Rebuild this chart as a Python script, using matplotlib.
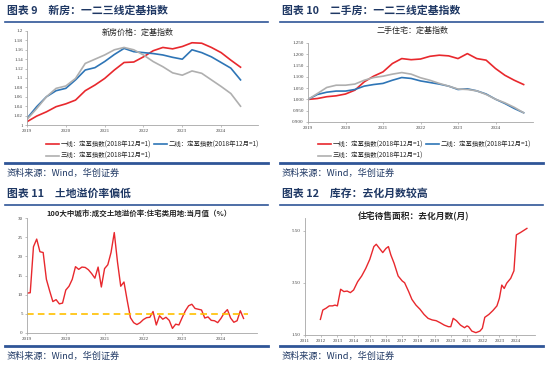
import numpy as np
import matplotlib
matplotlib.use("Agg")
import matplotlib.pyplot as plt
from matplotlib.lines import Line2D

plt.rcParams['font.family'] = ['Noto Sans CJK SC', 'DejaVu Sans']

W, H = 550, 366
NAVY = '#1F3864'
RULE = '#2F5597'
RED = '#E8282D'
BLUE = '#2E75B6'
GRAY = '#AFAFAF'
AXC = '#A6A6A6'

# ---- 图表9 新房 (quarterly readings, 2019Q1..2024Q3)
q_new = [2019.0 + 0.25 * i for i in range(23)]
new_t1 = [1.007, 1.019, 1.028, 1.039, 1.045, 1.053, 1.073, 1.085, 1.099, 1.117, 1.133, 1.134,
          1.145, 1.158, 1.165, 1.162, 1.167, 1.175, 1.174, 1.165, 1.154, 1.138, 1.123]
new_t2 = [1.014, 1.039, 1.060, 1.073, 1.078, 1.096, 1.117, 1.122, 1.135, 1.150, 1.163, 1.156,
          1.154, 1.152, 1.149, 1.144, 1.140, 1.160, 1.154, 1.145, 1.133, 1.121, 1.096]
new_t3 = [1.012, 1.035, 1.060, 1.078, 1.083, 1.099, 1.131, 1.140, 1.149, 1.160, 1.165, 1.160,
          1.149, 1.135, 1.124, 1.111, 1.106, 1.115, 1.110, 1.096, 1.082, 1.067, 1.040]

# ---- 图表10 二手房
q_old = [2019.0 + 0.25 * i for i in range(24)]
old_t1 = [1.000, 1.004, 1.012, 1.016, 1.024, 1.041, 1.078, 1.103, 1.122, 1.159, 1.181, 1.176,
          1.179, 1.191, 1.196, 1.193, 1.181, 1.203, 1.181, 1.174, 1.137, 1.107, 1.085, 1.066]
old_t2 = [1.000, 1.022, 1.032, 1.037, 1.037, 1.044, 1.059, 1.066, 1.071, 1.085, 1.097, 1.093,
          1.082, 1.075, 1.068, 1.059, 1.044, 1.047, 1.038, 1.024, 1.001, 0.982, 0.960, 0.941]
old_t3 = [1.000, 1.026, 1.053, 1.063, 1.063, 1.068, 1.085, 1.097, 1.103, 1.112, 1.119, 1.112,
          1.096, 1.085, 1.071, 1.059, 1.046, 1.044, 1.038, 1.022, 1.001, 0.985, 0.965, 0.941]

# ---- 图表11 土地溢价率 (monthly 2019-01..2024-08)
m_land = [2019.0 + i / 12 for i in range(68)]
land = [10.4, 10.5, 22.5, 24.5, 21.2, 21.0, 14.0, 11.0, 8.2, 8.7, 7.6, 7.8,
        11.2, 12.2, 14.0, 17.3, 16.6, 17.2, 17.1, 16.5, 15.5, 14.3, 17.2, 12.0,
        16.8, 17.8, 21.0, 26.2, 18.5, 12.2, 13.3, 8.5, 4.0, 2.7, 2.2, 2.7,
        3.5, 4.0, 4.1, 5.6, 2.1, 4.5, 3.6, 4.1, 3.3, 1.2, 2.3, 2.1,
        4.0, 5.8, 7.1, 7.5, 6.4, 6.2, 6.0, 3.9, 4.2, 3.3, 3.2, 2.7,
        3.8, 5.2, 6.1, 3.9, 2.8, 3.2, 5.8, 3.8]
land_ref = 5

# ---- 图表12 去化月数
inv_x = [2011.95, 2012.1, 2012.3, 2012.5, 2012.7, 2012.85, 2013.0, 2013.2, 2013.4, 2013.6,
         2013.8, 2014.0, 2014.25, 2014.5, 2014.75, 2015.0, 2015.25, 2015.4, 2015.6, 2015.8,
         2016.0, 2016.15, 2016.3, 2016.5, 2016.75, 2017.0, 2017.15, 2017.4, 2017.6, 2017.85,
         2018.1, 2018.35, 2018.6, 2018.85, 2019.1, 2019.35, 2019.6, 2019.85, 2020.0, 2020.15,
         2020.35, 2020.6, 2020.85, 2021.0, 2021.1, 2021.3, 2021.55, 2021.8, 2021.95, 2022.1,
         2022.35, 2022.6, 2022.85, 2023.0, 2023.15, 2023.3, 2023.45, 2023.7, 2023.9, 2024.05,
         2024.3, 2024.55, 2024.7]
inv = [2.10, 2.46, 2.53, 2.62, 2.62, 2.65, 2.62, 3.26, 3.17, 3.19,
       3.13, 3.23, 3.55, 3.77, 4.06, 4.41, 4.90, 4.99, 4.83, 4.67,
       4.83, 4.90, 4.58, 4.26, 3.77, 3.58, 3.51, 3.17, 2.87, 2.65,
       2.49, 2.29, 2.14, 2.08, 2.05, 1.97, 1.88, 1.82, 1.82, 2.14,
       2.05, 1.88, 1.78, 1.85, 1.82, 1.65, 1.59, 1.65, 1.76, 2.18,
       2.29, 2.44, 2.62, 2.91, 3.42, 3.29, 3.49, 3.68, 3.97, 5.35,
       5.44, 5.54, 5.60]

legend_labels = ['一线：定基指数(2018年12月=1)', '三线：定基指数(2018年12月=1)',
                 '二线：定基指数(2018年12月=1)']

fig = plt.figure(figsize=(W / 100, H / 100), dpi=100)


def ax_px(x0, y0, x1, y1):
    return fig.add_axes([x0 / W, 1 - y1 / H, (x1 - x0) / W, (y1 - y0) / H])


def style(ax):
    for s in ['top', 'right']:
        ax.spines[s].set_visible(False)
    for s in ['left', 'bottom']:
        ax.spines[s].set_color(AXC)
        ax.spines[s].set_linewidth(0.6)
    ax.tick_params(axis='both', length=1.5, width=0.5, color=AXC, pad=1.5,
                   labelsize=3.6, labelcolor='#404040')
    for lab in ax.get_xticklabels() + ax.get_yticklabels():
        lab.set_family('Liberation Serif')


def frame(x0, y0, title):
    fig.text((x0 + 7) / W, 1 - (y0 + 11) / H, title, fontsize=7.8, fontweight='bold',
             color=NAVY, va='center', ha='left')
    fig.add_artist(Line2D([(x0 + 5) / W, (x0 + 268) / W], [1 - (y0 + 22) / H] * 2,
                          color=RULE, lw=1.2))
    fig.add_artist(Line2D([(x0 + 5) / W, (x0 + 268) / W], [1 - (y0 + 163) / H] * 2,
                          color=RULE, lw=2.0))
    fig.text((x0 + 7) / W, 1 - (y0 + 173) / H, '资料来源：Wind，华创证券', fontsize=6.6,
             color=NAVY, va='center', ha='left')


def put_legend(handles, x, y):
    fig.legend(handles, legend_labels, ncol=2, frameon=False, fontsize=4.6,
               handlelength=2.0, columnspacing=0.4, labelspacing=0.6, handletextpad=0.3,
               loc='upper left', bbox_to_anchor=(x / W, 1 - y / H), borderpad=0,
               labelcolor='#262626')


years6 = [2019, 2020, 2021, 2022, 2023, 2024]

# panel 1
frame(0, 0, '图表 9　新房：一二三线定基指数')
ax1 = ax_px(27, 31, 258, 125)
l1, = ax1.plot(q_new, new_t1, color=RED, lw=1.2)
l2, = ax1.plot(q_new, new_t2, color=BLUE, lw=1.2)
l3, = ax1.plot(q_new, new_t3, color=GRAY, lw=1.2)
ax1.set_xlim(2019, 2024.95)
ax1.set_ylim(1.0, 1.2)
yt1 = np.round(np.arange(1.0, 1.2001, 0.02), 2)
ax1.set_yticks(yt1)
ax1.set_yticklabels([f'{v:g}' for v in yt1])
ax1.set_xticks(years6)
ax1.set_xticklabels([str(y) for y in years6])
style(ax1)
fig.text(138 / W, 1 - 32 / H, '新房价格：定基指数', fontsize=5.8, color='#262626',
         ha='center', va='center')
put_legend([l1, l3, l2], 43, 137)

# panel 2
frame(275, 0, '图表 10　二手房：一二三线定基指数')
ax2 = ax_px(308, 43, 533, 122)
m1, = ax2.plot(q_old, old_t1, color=RED, lw=1.2)
m2, = ax2.plot(q_old, old_t2, color=BLUE, lw=1.2)
m3, = ax2.plot(q_old, old_t3, color=GRAY, lw=1.2)
ax2.set_xlim(2019, 2025)
ax2.set_ylim(0.9, 1.25)
yt2 = np.round(np.arange(0.9, 1.2501, 0.05), 2)
ax2.set_yticks(yt2)
ax2.set_yticklabels([f'{v:.3f}' for v in yt2])
ax2.set_xticks(years6)
ax2.set_xticklabels([str(y) for y in years6])
style(ax2)
fig.text(413 / W, 1 - 30 / H, '二手住宅：定基指数', fontsize=5.8, color='#262626',
         ha='center', va='center')
put_legend([m1, m3, m2], 315, 137)

# panel 3
frame(0, 183, '图表 11　土地溢价率偏低')
ax3 = ax_px(27, 218, 257, 333)
ax3.plot(m_land, land, color=RED, lw=1.0)
ax3.plot([m_land[0], 2024.7], [land_ref, land_ref], color='#FFC000', lw=1.2, ls=(0, (4, 2.5)))
ax3.set_xlim(2019, 2024.93)
ax3.set_ylim(0, 30)
ax3.set_yticks(range(0, 31, 5))
ax3.set_xticks(years6)
ax3.set_xticklabels([str(y) for y in years6])
style(ax3)
fig.text(139 / W, 1 - 213 / H, '100大中城市:成交土地溢价率:住宅类用地:当月值（%）',
         fontsize=5.4, fontweight='bold', color='#262626', ha='center', va='center')

# panel 4
frame(275, 183, '图表 12　库存：去化月数较高')
ax4 = ax_px(305, 218, 535, 335)
ax4.plot(inv_x, inv, color=RED, lw=1.0)
ax4.set_xlim(2011, 2025.2)
ax4.set_ylim(1.5, 6.0)
ax4.set_yticks([1.5, 3.5, 5.5])
ax4.set_yticklabels(['1.50', '3.50', '5.50'])
yrs4 = list(range(2011, 2025))
ax4.set_xticks(yrs4)
ax4.set_xticklabels([str(y) for y in yrs4])
style(ax4)
fig.text(414 / W, 1 - 216 / H, '住宅待售面积：去化月数(月)', fontsize=6.3, fontweight='bold',
         color='#262626', ha='center', va='center')

fig.savefig('out.png', dpi=100)
